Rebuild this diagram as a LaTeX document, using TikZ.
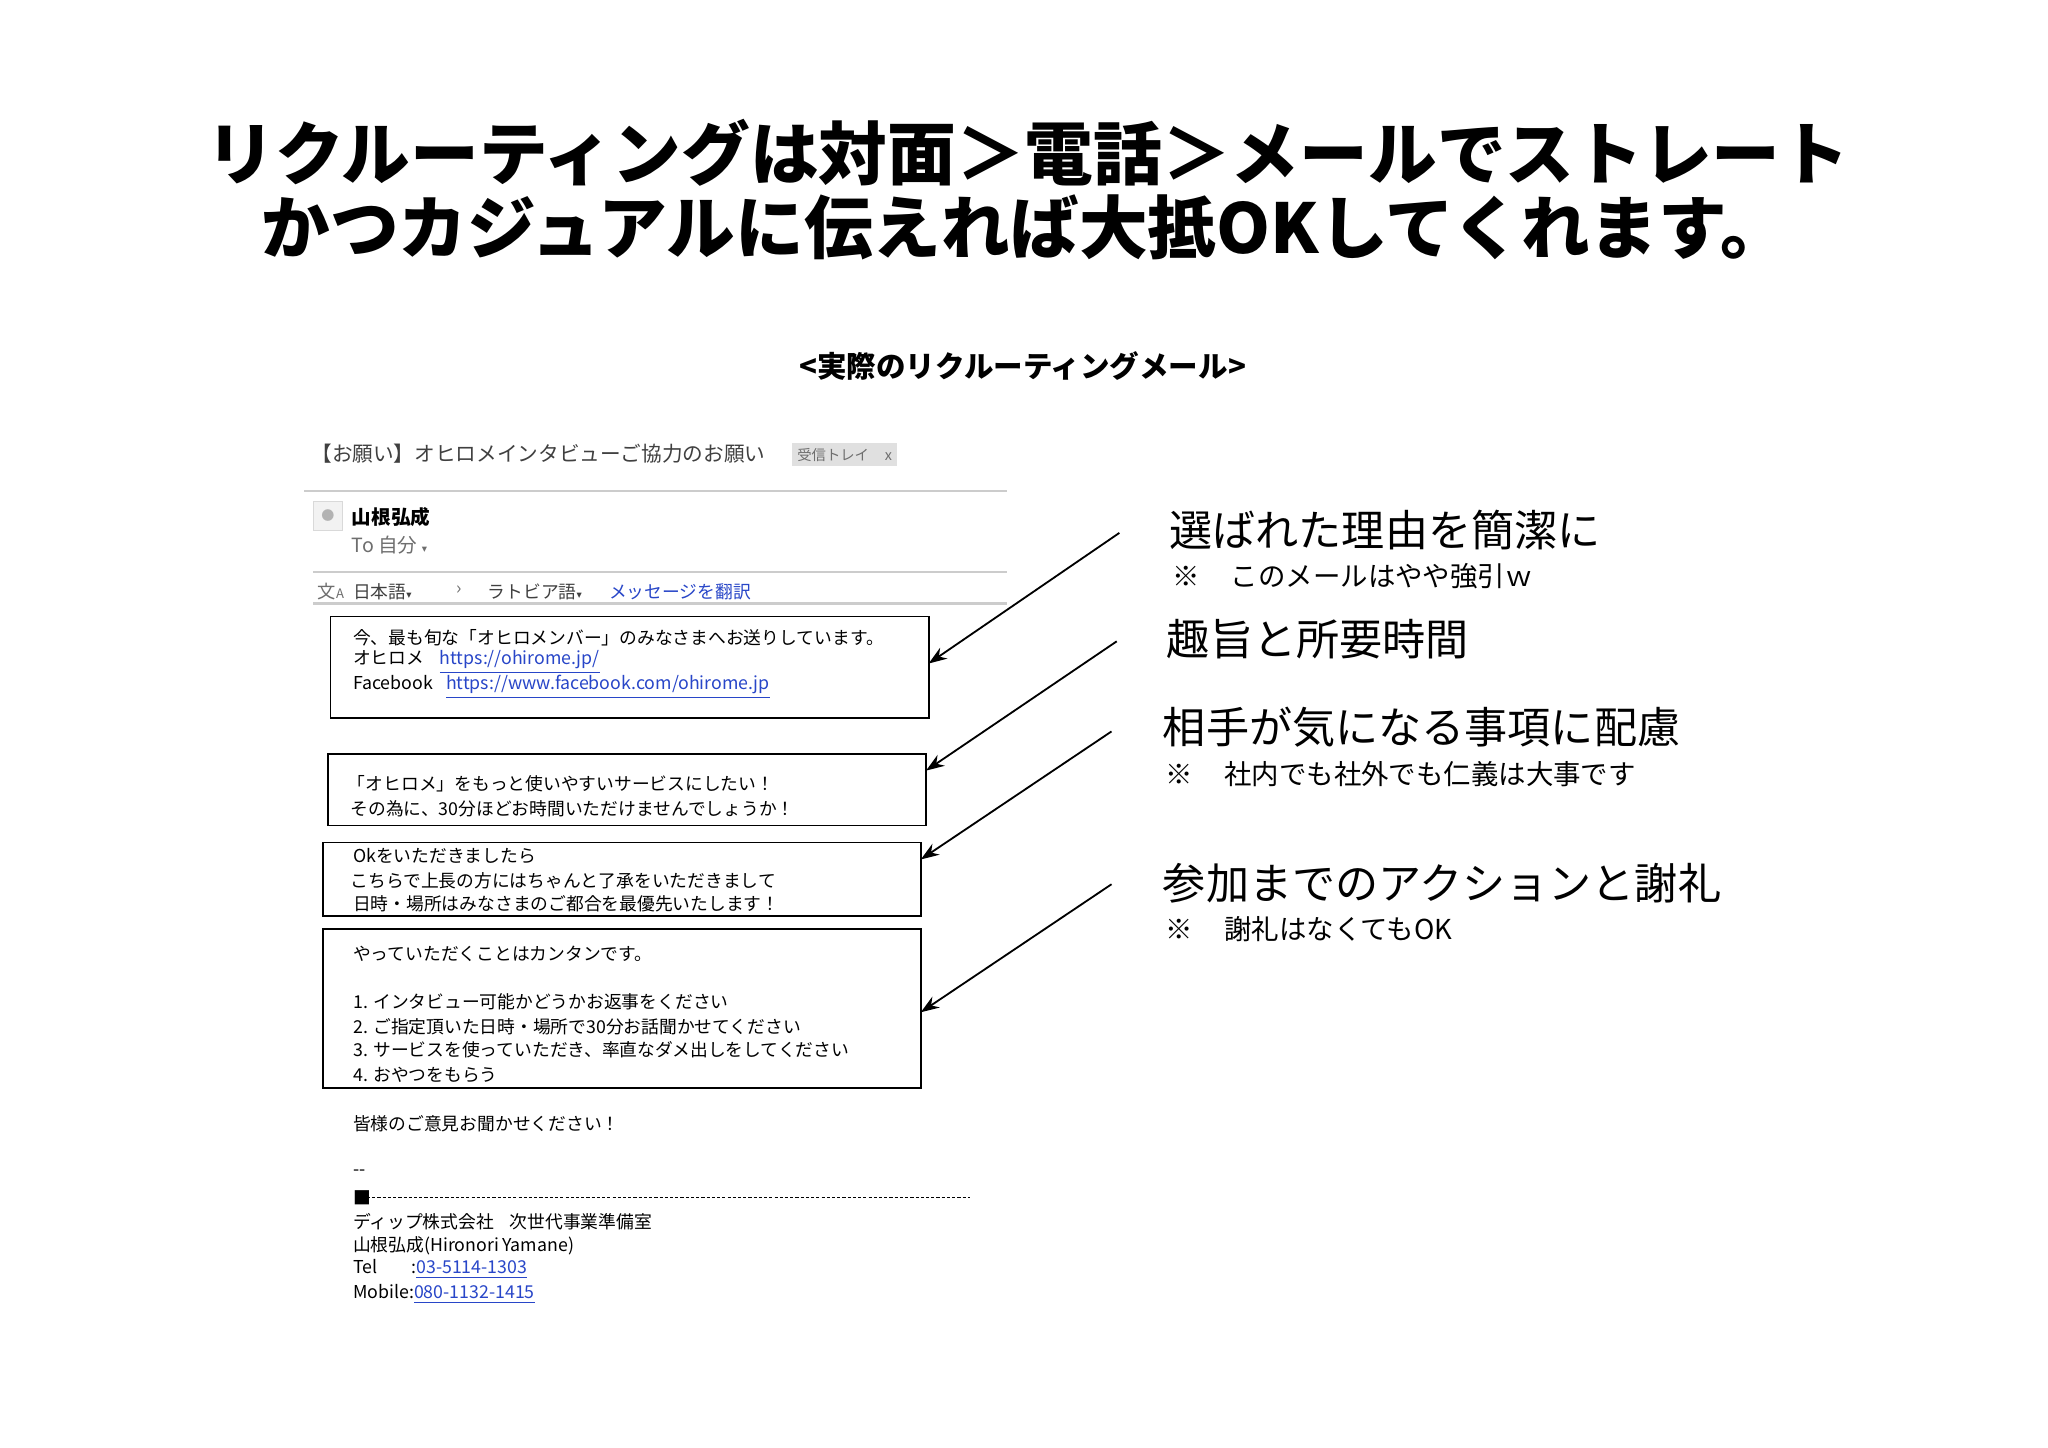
\documentclass[tikz,border=0pt]{standalone}
\usepackage{fontspec}
\setmainfont{Noto Sans CJK JP}
\newfontfamily\jp{Noto Sans CJK JP}
\newfontfamily\dv{DejaVu Sans}
\usetikzlibrary{arrows.meta}
\definecolor{lnk}{RGB}{40,70,200}
\definecolor{gtx}{RGB}{110,110,110}
\newcommand{\dnarr}{{\dv\fontsize{4}{4}\selectfont ▾}}
\begin{document}
\begin{tikzpicture}[x=0.5pt,y=-0.5pt,
  mtxt/.style={anchor=west,inner sep=0pt,font=\jp\fontsize{6.8}{7}\selectfont},
  mbox/.style={draw,line width=0.7pt},
  conn/.style={-{Stealth[length=7pt,width=5pt]},line width=0.7pt},
  big/.style={anchor=west,inner sep=0pt,font=\jp\fontsize{16.5}{18}\selectfont},
  note/.style={anchor=west,inner sep=0pt,font=\jp\fontsize{10.5}{12}\selectfont}]
\useasboundingbox[fill=white] (0,0) rectangle (1568,1108);
% title
\node[font=\jp\bfseries\fontsize{26.3}{28}\selectfont,inner sep=0pt] (t1) at (787,117) {リクルーティングは対面＞電話＞メールでストレート};
\node[font=\jp\bfseries\fontsize{26.3}{28}\selectfont,inner sep=0pt] (t2) at (785,174) {かつカジュアルに伝えれば大抵OKしてくれます。};
\node[font=\jp\bfseries\fontsize{11.3}{12}\selectfont,inner sep=0pt] (sub) at (783,280) {<実際のリクルーティングメール>};
% header
\node[anchor=west,inner sep=0pt,font=\jp\fontsize{7.9}{9}\selectfont,text=black!75] (subj) at (238,347) {【お願い】オヒロメインタビューご協力のお願い};
\node[fill=black!12,anchor=west,inner sep=2pt,minimum height=8.5pt,font=\jp\fontsize{5.5}{6}\selectfont,text=gtx] (tag) at (606,348) {受信トレイ\hspace{6pt}x};
\draw[black!20,line width=1pt] (233,376) -- (771,376);
\node[draw=black!15,fill=black!5,minimum width=11pt,minimum height=11pt,inner sep=0pt,font=\tiny,text=black!30] (av) at (251,395) {●};
\node[anchor=west,inner sep=0pt,font=\jp\bfseries\fontsize{7.5}{8}\selectfont] (name) at (269,396) {山根弘成};
\node[anchor=west,inner sep=0pt,font=\jp\fontsize{7.5}{8}\selectfont,text=gtx] (to) at (269,417) {To 自分 \dnarr};
\draw[black!20,line width=1pt] (240,438) -- (771,438);
\draw[black!20,line width=1pt] (240,462) -- (771,462);
\node[anchor=west,inner sep=0pt,font=\jp\fontsize{7}{8}\selectfont,text=gtx] (ic) at (243,453) {文\tiny A};
\node[mtxt,text=black!75] (ja) at (270,453) {日本語\dnarr};
\node[mtxt,text=gtx] (gt) at (349,452) {›};
\node[mtxt,text=black!75] (lv) at (373,453) {ラトビア語\dnarr};
\node[mtxt,text=lnk] (tr) at (466,453) {メッセージを翻訳};
% boxes
\draw[mbox] (253,472) rectangle (711,550);
\draw[mbox] (251,577) rectangle (709,632);
\draw[mbox] (247,645) rectangle (705,701);
\draw[mbox] (247,711) rectangle (705,833);
\coordinate (b1) at (711,508); \coordinate (b2) at (709,590);
\coordinate (b3) at (705,658); \coordinate (b4) at (705,775);
\node[mtxt] (l11) at (270,488) {今、最も旬な「オヒロメンバー」のみなさまへお送りしています。};
\node[mtxt] (l12) at (270,507) {オヒロメ\hspace{6pt}\textcolor{lnk}{\underline{https://ohirome.jp/}}};
\node[mtxt] (l13) at (270,526) {Facebook\hspace{5pt}\textcolor{lnk}{\underline{https://www.facebook.com/ohirome.jp}}};
\node[mtxt] (l21) at (266,600) {「オヒロメ」をもっと使いやすいサービスにしたい！};
\node[mtxt] (l22) at (268,619) {その為に、30分ほどお時間いただけませんでしょうか！};
\node[mtxt] (l31) at (270,655) {Okをいただきましたら};
\node[mtxt] (l32) at (268,674) {こちらで上長の方にはちゃんと了承をいただきまして};
\node[mtxt] (l33) at (270,692) {日時・場所はみなさまのご都合を最優先いたします！};
\node[mtxt] (l41) at (270,730) {やっていただくことはカンタンです。};
\node[mtxt] (l42) at (270,767) {1. インタビュー可能かどうかお返事をください};
\node[mtxt] (l43) at (270,786) {2. ご指定頂いた日時・場所で30分お話聞かせてください};
\node[mtxt] (l44) at (270,804) {3. サービスを使っていただき、率直なダメ出しをしてください};
\node[mtxt] (l45) at (270,823) {4. おやつをもらう};
\node[mtxt] (l51) at (270,860) {皆様のご意見お聞かせください！};
\node[mtxt] (l52) at (270,898) {--};
\node[mtxt] (l53) at (270,917) {■};
\draw[dash pattern=on 1.2pt off 0.8pt,line width=0.5pt] (277,917) -- (743,917);
\node[mtxt] (l54) at (270,935) {ディップ株式会社\hspace{6pt}次世代事業準備室};
\node[mtxt] (l55) at (270,954) {山根弘成(Hironori Yamane)};
\node[mtxt] (l56) at (270,972) {Tel\hspace{13pt}:\textcolor{lnk}{\underline{03-5114-1303}}};
\node[mtxt] (l57) at (270,991) {Mobile:\textcolor{lnk}{\underline{080-1132-1415}}};
% right labels
\node[big] (r1) at (895,406) {選ばれた理由を簡潔に};
\node[note] (n1) at (897,441) {※\hspace{12pt}このメールはやや強引ｗ};
\node[big] (r2) at (893,489) {趣旨と所要時間};
\node[big] (r3) at (890,557) {相手が気になる事項に配慮};
\node[note] (n3) at (892,593) {※\hspace{12pt}社内でも社外でも仁義は大事です};
\node[big] (r4) at (890,676) {参加までのアクションと謝礼};
\node[note] (n4) at (892,711) {※\hspace{12pt}謝礼はなくてもOK};
\coordinate (s1) at (857,408); \coordinate (s2) at (855,491);
\coordinate (s3) at (851,560); \coordinate (s4) at (851,677);
\draw[conn] (s1) -- (b1);
\draw[conn] (s2) -- (b2);
\draw[conn] (s3) -- (b3);
\draw[conn] (s4) -- (b4);
\end{tikzpicture}
\end{document}
